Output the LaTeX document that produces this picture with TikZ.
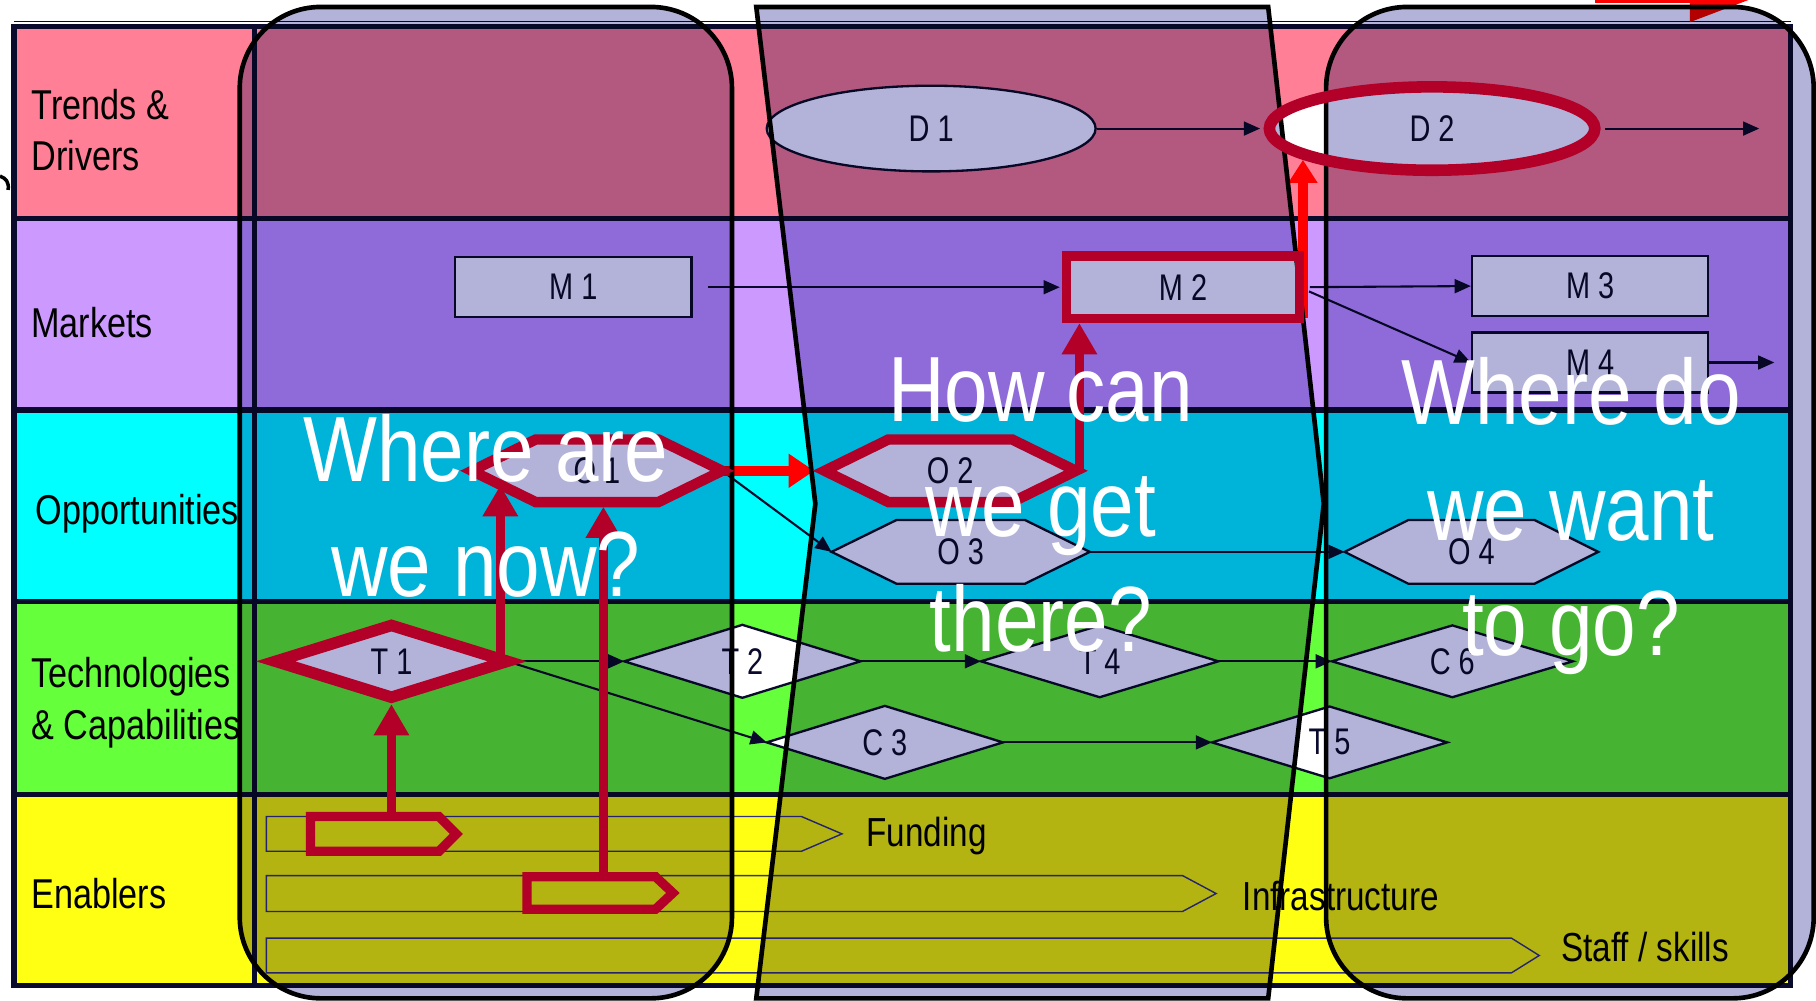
\documentclass[tikz,border=0pt]{standalone}
\usepackage{fontspec}
\setmainfont{Liberation Sans}[FakeStretch=0.82]
\newfontfamily\nodefont{Liberation Sans}[FakeStretch=0.78]
\newfontfamily\questfont{Liberation Sans}[FakeStretch=0.845]
\usetikzlibrary{arrows.meta,shapes.geometric,calc}
\pgfdeclarelayer{bands}
\pgfdeclarelayer{shapes}
\pgfsetlayers{bands,shapes,main}

\definecolor{bandT}{RGB}{255,128,150}
\definecolor{bandM}{RGB}{204,153,255}
\definecolor{bandO}{RGB}{0,255,255}
\definecolor{bandC}{RGB}{102,255,60}
\definecolor{bandE}{RGB}{255,255,20}
\definecolor{lav}{RGB}{179,179,217}
\definecolor{crim}{RGB}{178,0,40}
\definecolor{ink}{RGB}{10,10,45}
\definecolor{enabline}{RGB}{50,50,130}

\newcommand\hexof[2]{(#1.west) -- ([xshift=#2]#1.north west) -- ([xshift=-#2]#1.north east) -- (#1.east) -- ([xshift=-#2]#1.south east) -- ([xshift=#2]#1.south west) -- cycle}
\newcommand\diaof[1]{(#1.west) -- (#1.north) -- (#1.east) -- (#1.south) -- cycle}

\begin{document}
\begin{tikzpicture}[x=1pt,y=-1pt,
  lbl/.style={font=\fontsize{36}{44.5}\selectfont, inner sep=0pt, align=left, text=black},
  ntext/.style={font=\nodefont\fontsize{32}{36}\selectfont, text=ink},
  slot/.style 2 args={ntext, inner sep=0pt, outer sep=0pt, minimum width=#1, minimum height=#2},
  boxnode/.style={ntext, rectangle, draw=ink, line width=2pt, fill=white, inner sep=0pt, minimum width=204pt, minimum height=52pt},
  ellnode/.style={ntext, ellipse, draw=ink, line width=2pt, fill=white, inner sep=0pt},
  thinshape/.style={draw=ink, line width=2pt, fill=white},
  conn/.style={draw=ink, line width=1.8pt, -{Triangle[length=14pt,width=12pt]}},
  hi/.style={draw=crim, line width=9pt},
  crarrow/.style={draw=crim, line width=8pt, -{Triangle[length=27pt,width=29pt]}},
  redarrow/.style={draw=red, line width=9pt, -{Triangle[length=22pt,width=28pt]}},
  zone/.style={fill=lav, draw=black, line width=4pt, blend mode=multiply},
  gridline/.style={draw=ink, line width=4.5pt},
  enab/.style={draw=enabline, line width=1.2pt},
  quest/.style={text=white, font=\questfont\fontsize{80}{99.5}\selectfont, align=center, inner sep=0pt},
  elbl/.style={font=\fontsize{35}{40}\selectfont, text=black, inner sep=0pt, anchor=base west}
]
\useasboundingbox (0,0) rectangle (1568,864);

% ---- bands and table grid ----
\begin{pgfonlayer}{bands}
\fill[white] (0,0) rectangle (1568,864);
\fill[bandT] (12,23) rectangle (1546,188.5);
\fill[bandM] (12,188.5) rectangle (1546,354);
\fill[bandO] (12,354) rectangle (1546,519.5);
\fill[bandC] (12,519.5) rectangle (1546,686);
\fill[bandE] (12,686) rectangle (1546,851);
\draw[ink, line width=1.5pt] (12,18.5) -- (1546,18.5);
\draw[gridline] (12,23) rectangle (1546,851);
\draw[gridline] (12,188.5) -- (1546,188.5);
\draw[gridline] (12,354) -- (1546,354);
\draw[gridline] (12,519.5) -- (1546,519.5);
\draw[gridline] (12,686) -- (1546,686);
\draw[gridline] (220,23) -- (220,851);
\end{pgfonlayer}

% ---- row labels ----
\node[lbl, anchor=north west] (lT) at (27,76.7) {Trends \&\\Drivers};
\node[lbl, anchor=base west] (lM) at (27,291) {Markets};
\node[lbl, anchor=base west] (lO) at (30.5,453) {Opportunities};
\node[lbl, anchor=north west] (lC) at (27,567.7) {Technologies\\\& Capabilities};
\node[lbl, anchor=base west] (lE) at (27,784) {Enablers};

% ---- enabler bars ----
\draw[enab] (230,705) -- (692,705) -- (727,720) -- (692,735) -- (230,735) -- cycle;
\draw[enab] (230,756) -- (1021,756) -- (1050,771.5) -- (1021,787) -- (230,787) -- cycle;
\draw[enab] (230,810) -- (1305,810) -- (1329,825) -- (1305,840) -- (230,840) -- cycle;
\node[elbl] (fund) at (748,731) {Funding};
\node[elbl] (infra) at (1073,786) {Infrastructure};
\node[elbl] (staff) at (1348,830) {Staff / skills};

% ---- nodes ----
\node[ellnode, minimum width=284pt, minimum height=74pt] (D1) at (804,111) {D 1};
\node[ellnode, minimum width=281pt, minimum height=72pt] (D2) at (1236.5,111) {D 2};
\node[boxnode] (M1) at (495,248) {M 1};
\node[boxnode, minimum width=199pt] (M2) at (1021.5,248) {M 2};
\node[boxnode] (M3) at (1373,247) {M 3};
\node[boxnode] (M4) at (1373,313) {M 4};

\node[slot={216pt}{54pt}] (O1) at (515.5,406.5) {O 1};
\node[slot={217pt}{54pt}] (O2) at (820.5,406.5) {O 2};
\node[slot={223pt}{55pt}] (O3) at (829.5,476.5) {O 3};
\node[slot={219pt}{55pt}] (O4) at (1270.5,476.5) {O 4};

\node[slot={200pt}{62pt}] (T1) at (338,571) {T 1};
\node[slot={204pt}{63pt}] (T2) at (641,571) {T 2};
\node[slot={205pt}{62pt}] (T4) at (949.5,571) {T 4};
\node[slot={208pt}{62pt}] (C6) at (1254,571) {C 6};
\node[slot={204pt}{63pt}] (C3) at (764,641) {C 3};
\node[slot={203pt}{62pt}] (T5) at (1148,641) {T 5};

\begin{pgfonlayer}{shapes}
\draw[thinshape] \hexof{O1}{55pt};
\draw[thinshape] \hexof{O2}{55pt};
\draw[thinshape] \hexof{O3}{56pt};
\draw[thinshape] \hexof{O4}{55pt};
\draw[thinshape] \diaof{T1};
\draw[thinshape] \diaof{T2};
\draw[thinshape] \diaof{T4};
\draw[thinshape] \diaof{C6};
\draw[thinshape] \diaof{C3};
\draw[thinshape] \diaof{T5};
\end{pgfonlayer}

% ---- thin connectors ----
\coordinate (D2out) at (1519,111);
\coordinate (M4out) at (1532,313);
\draw[conn, shorten >=7pt] (D1.east) -- (D2.west);
\draw[conn, shorten <=8pt] (D2.east) -- (D2out);
\draw[conn, shorten <=13pt, shorten >=6pt] (M1.east) -- (M2.west);
\draw[conn, shorten <=9pt] (M2.east) -- (M3.west);
\draw[conn, shorten <=9pt] (M2.east) -- (M4.west);
\draw[conn] (M4.east) -- (M4out);
\draw[conn] (O1.east) -- (O3.west);
\draw[conn] (O3.east) -- (O4.west);
\draw[conn] (T1.east) -- (T2.west);
\draw[conn] (T1.east) -- (C3.west);
\draw[conn] (T2.east) -- (T4.west);
\draw[conn] (T4.east) -- (C6.west);
\draw[conn] (C3.east) -- (T5.west);

% ---- red arrows (under the zones) ----
\draw[redarrow] (O1.east) -- ([xshift=-9pt]O2.west);
\coordinate (M2r) at ([xshift=3pt]M2.south east);
\coordinate (D2hit) at ($(D2.center)+(-111.5,27)$);
\draw[redarrow, -{Triangle[length=20pt,width=24pt]}] (M2r) -- (D2hit);
\coordinate (ra1) at (1377,-1);
\coordinate (ra2) at (1513,-1);
\draw[red, line width=8pt, -{Triangle[length=54pt,width=38pt]}] (ra1) -- (ra2);

% ---- the three zones ----
\path[zone, rounded corners=70pt] (207,6) rectangle (632,862);
\path[zone] (653,6) -- (1095,6) -- (1143,435) -- (1095,862) -- (653,862) -- (704,435) -- cycle;
\path[zone, rounded corners=70pt] (1145,6) rectangle (1566,862);

% ---- highlights ----
\draw[hi, line width=10pt] (D2.center) ellipse [x radius=140.5pt, y radius=36pt];
\draw[hi, line width=8pt] (M2.south west) rectangle (M2.north east);
\draw[hi] \hexof{O1}{55pt};
\draw[hi] \hexof{O2}{55pt};
\draw[hi, line width=10pt] \diaof{T1};
\draw[hi, line width=8pt] (268,705) -- (379,705) -- (394,720) -- (379,735) -- (268,735) -- cycle;
\draw[hi, line width=8pt] (455,757) -- (566,757) -- (581,771) -- (566,785) -- (455,785) -- cycle;

\coordinate (E1) at (338,705);
\coordinate (E2) at (521,757);
\draw[crarrow] (E1) -- ([yshift=-6pt]T1.south);
\coordinate (O1b) at (E2 |- O1.south);
\draw[crarrow] (E2) -- ([yshift=-4pt]O1b);
\coordinate (O1sl) at ($(O1.west)!0.46!([xshift=55pt]O1.south west)$);
\coordinate (T1a) at ([xshift=-6pt]T1.east);
\draw[crarrow] (T1a) -- (T1a |- O1sl);
\coordinate (O2a) at ([xshift=3pt]O2.east);
\coordinate (M2b) at (O2a |- M2.south);
\draw[crarrow] (O2a) -- ([yshift=-4pt]M2b);

% ---- stray mark at left edge ----
\draw[black, line width=3pt] (0,152) .. controls (5,154) and (8,157) .. (7,164);

% ---- questions ----
\node[quest, anchor=north] (q1) at (419.5,357.6) {Where are\\we now?};
\node[quest, anchor=north] (q2) at (898.6,308.7) {How can\\we get\\there?};
\node[quest, anchor=north] (q3) at (1356.5,308.7) {Where do\\we want\\to go?};
\end{tikzpicture}
\end{document}
